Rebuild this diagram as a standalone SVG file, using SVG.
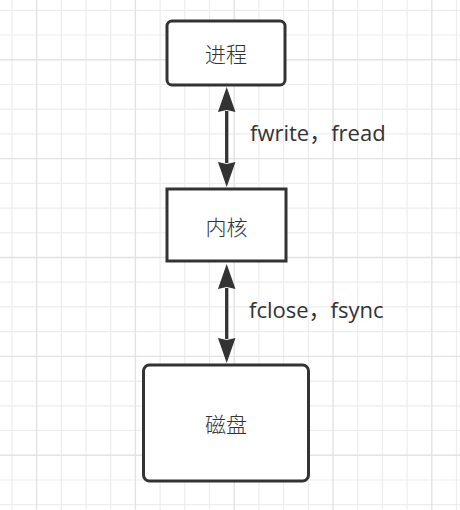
<svg xmlns="http://www.w3.org/2000/svg" width="460" height="510" viewBox="0 0 460 510">
<style>
.minor{stroke:#ededed;stroke-width:1.2;fill:none}
.major{stroke:#e3e3e3;stroke-width:1.4;fill:none}
.box{fill:#ffffff;stroke:#333333;stroke-width:3}
.node-text{font-family:"Noto Sans CJK SC","Microsoft YaHei",sans-serif;font-size:21px;font-weight:300;fill:#333333;text-anchor:middle}
.edge-label{font-family:"Open Sans","Noto Sans CJK SC",sans-serif;font-size:22px;fill:#333333}
.edge{stroke:#333333;stroke-width:3.3;fill:none;marker-start:url(#head);marker-end:url(#head)}
</style>
<defs>
<marker id="head" markerUnits="userSpaceOnUse" markerWidth="30" markerHeight="20" refX="1" refY="8.75" orient="auto-start-reverse" overflow="visible">
<path d="M0,0 L25,8.75 L0,17.5 L2,8.75 Z" fill="#333333"/>
</marker>
</defs>
<rect width="460" height="510" fill="#ffffff"/>
<g id="grid">
<path class="minor" d="M11.9,0V510M61.3,0V510M86,0V510M110.7,0V510M160.1,0V510M184.8,0V510M209.5,0V510M258.9,0V510M283.6,0V510M308.3,0V510M357.7,0V510M382.4,0V510M407.1,0V510M456.5,0V510M0,10.3H460M0,35H460M0,84.5H460M0,109.2H460M0,133.9H460M0,183.3H460M0,208.1H460M0,232.8H460M0,282.2H460M0,306.9H460M0,331.7H460M0,381.1H460M0,405.8H460M0,430.5H460M0,480H460M0,504.7H460"/>
<path class="major" d="M36.6,0V510M135.4,0V510M234.2,0V510M333,0V510M431.8,0V510M0,59.7H460M0,158.6H460M0,257.5H460M0,356.4H460M0,455.3H460"/>
</g>
<g id="connectors">
<line class="edge" x1="226.7" y1="111" x2="226.7" y2="163"/>
<line class="edge" x1="226.7" y1="288" x2="226.7" y2="339"/>
<text class="edge-label" x="250" y="140.5">fwrite，fread</text>
<text class="edge-label" x="249" y="317.5">fclose，fsync</text>
</g>
<g id="process">
<rect class="box" x="167" y="21" width="118" height="64" rx="5"/>
<text class="node-text" x="226" y="61.5">进程</text>
</g>
<g id="kernel">
<rect class="box" x="167" y="189" width="119" height="72"/>
<text class="node-text" x="226.5" y="234.5">内核</text>
</g>
<g id="disk">
<rect class="box" x="143.5" y="365" width="165" height="116" rx="6"/>
<text class="node-text" x="226" y="431.5">磁盘</text>
</g>
</svg>
